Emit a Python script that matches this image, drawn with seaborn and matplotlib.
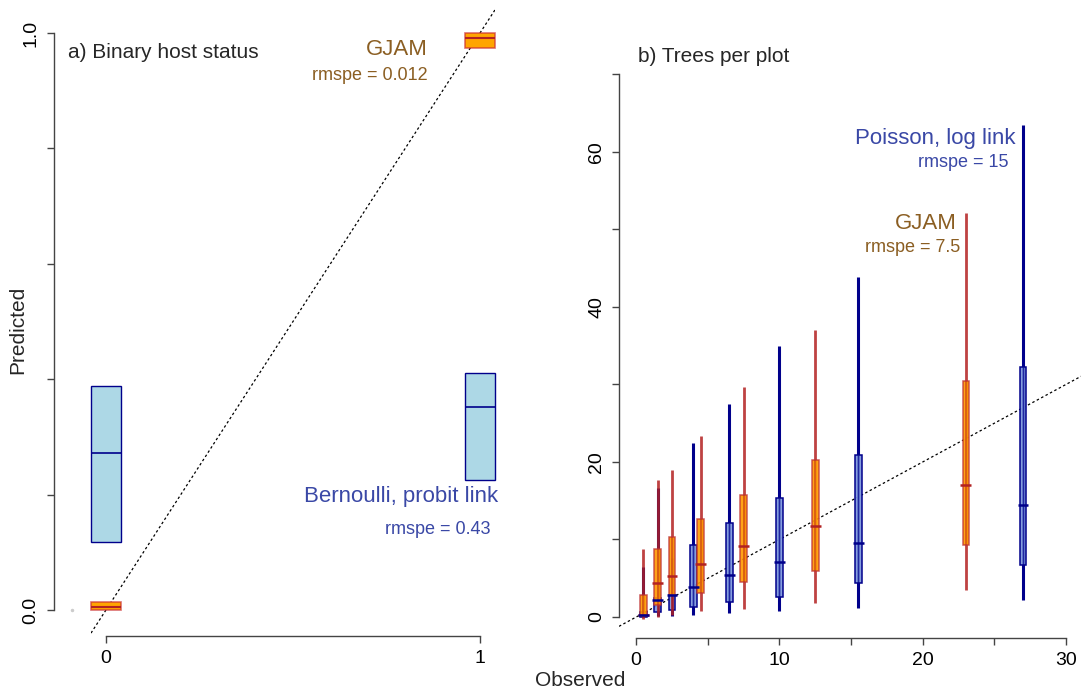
import numpy as np
import pandas as pd
import matplotlib
matplotlib.use("Agg")
import matplotlib.pyplot as plt
import seaborn as sns

# ---- panel a: binary host status ----
bin_obs = [0, 1]
bern_lo = [0.118, 0.225]
bern_med = [0.272, 0.351]
bern_hi = [0.388, 0.410]
gjam_bin_lo = [0.0, 0.974]
gjam_bin_med = [0.006, 0.991]
gjam_bin_hi = [0.014, 1.0]

# ---- panel b: trees per plot ----
pois_x = [0.5, 1.5, 2.5, 4.0, 6.5, 10.0, 15.5, 27.0]
pois_wlo = [0.0, 0.1, 0.1, 0.2, 0.5, 0.8, 1.2, 2.2]
pois_lo = [0.0, 0.6, 0.9, 1.25, 1.9, 2.6, 4.4, 6.7]
pois_med = [0.2, 2.2, 2.8, 3.9, 5.4, 7.1, 9.5, 14.5]
pois_hi = [0.6, 2.4, 2.8, 9.3, 12.1, 15.4, 20.9, 32.3]
pois_whi = [6.5, 16.7, 7.6, 22.5, 27.5, 35.0, 43.9, 63.4]

gjam_x = [0.5, 1.5, 2.5, 4.5, 7.5, 12.5, 23.0]
gjam_wlo = [-0.3, 0.0, 0.2, 0.8, 1.1, 1.8, 3.5]
gjam_lo = [0.1, 1.5, 2.9, 3.1, 4.5, 5.9, 9.3]
gjam_med = [0.25, 4.4, 5.3, 6.8, 9.2, 11.7, 17.0]
gjam_hi = [2.8, 8.8, 10.3, 12.6, 15.7, 20.2, 30.5]
gjam_whi = [8.8, 17.7, 18.9, 23.3, 29.7, 37.0, 52.1]

pois = pd.DataFrame({'x': pois_x, 'wlo': pois_wlo, 'lo': pois_lo,
                     'med': pois_med, 'hi': pois_hi, 'whi': pois_whi})
gjam = pd.DataFrame({'x': gjam_x, 'wlo': gjam_wlo, 'lo': gjam_lo,
                     'med': gjam_med, 'hi': gjam_hi, 'whi': gjam_whi})

sns.set_theme(style="ticks")
plt.rcParams['font.family'] = ['Liberation Sans', 'DejaVu Sans']
plt.rcParams['axes.linewidth'] = 1.0
plt.rcParams['axes.edgecolor'] = '#444444'
plt.rcParams['xtick.color'] = '#444444'
plt.rcParams['ytick.color'] = '#444444'
plt.rcParams['xtick.labelcolor'] = 'black'
plt.rcParams['ytick.labelcolor'] = 'black'

ORANGE = '#FFA500'
RED = '#B22222'
DBLUE = '#00008B'
TXT_BROWN = '#8B5E22'
TXT_BLUE = '#3A48A6'

fig = plt.figure(figsize=(10.81, 6.93), dpi=100)
ax1 = fig.add_axes([0.0842, 0.0823, 0.3737, 0.9076])
ax2 = fig.add_axes([0.5726, 0.0794, 0.4274, 0.8225])

# -------------------
# a) Binary host status
# -------------------
ax1.axline((0, 0), slope=1, color='black', lw=0.9, ls=(0, (2, 2)), zorder=1)
bw = 0.08
lo = np.array(bern_lo)
ax1.bar(bin_obs, np.array(bern_hi) - lo, bottom=lo, width=bw,
        color='#ADD8E6', edgecolor=DBLUE, lw=1.0, zorder=2, clip_on=False)
ax1.hlines(bern_med, np.array(bin_obs) - bw / 2, np.array(bin_obs) + bw / 2,
           color=DBLUE, lw=1.2, zorder=3, clip_on=False)
lo = np.array(gjam_bin_lo)
ax1.bar(bin_obs, np.array(gjam_bin_hi) - lo, bottom=lo, width=bw,
        color=ORANGE, edgecolor=(0.8, 0.2, 0.2, 0.7), lw=1.2, zorder=2, clip_on=False)
ax1.hlines(gjam_bin_med, np.array(bin_obs) - bw / 2, np.array(bin_obs) + bw / 2,
           color=RED, lw=1.5, zorder=3, clip_on=False)
ax1.plot([-0.09], [0.0], 'o', ms=1.5, color='#cccccc', zorder=1, clip_on=False)

sns.despine(ax=ax1)
ax1.spines['left'].set_position(('outward', 27))
ax1.spines['left'].set_bounds(0, 1)
ax1.spines['bottom'].set_bounds(0, 1)
ax1.set_xlim(-0.04, 1.04)
ax1.set_ylim(-0.045, 1.045)
ax1.set_xticks([0, 1])
ax1.set_yticks(np.arange(0, 1.01, 0.2))
ax1.set_yticklabels(['0.0', '', '', '', '', '1.0'])
ax1.tick_params(axis='both', labelsize=14, length=5, width=1.0, pad=5)
ax1.tick_params(axis='y', labelrotation=90)
for t in ax1.get_yticklabels():
    t.set_va('center')

ax1.text(-0.102, 0.967, 'a) Binary host status', fontsize=15, ha='left', va='center')
ax1.text(0.861, 0.971, 'GJAM', fontsize=16, color=TXT_BROWN, ha='right', va='center')
ax1.text(0.861, 0.926, 'rmspe = 0.012', fontsize=13, color=TXT_BROWN, ha='right', va='center')
ax1.text(1.048, 0.197, 'Bernoulli, probit link', fontsize=16, color=TXT_BLUE, ha='right', va='center')
ax1.text(1.027, 0.140, 'rmspe = 0.43', fontsize=13, color=TXT_BLUE, ha='right', va='center')

# -------------------
# b) Trees per plot
# -------------------
ax2.axline((0, 0), slope=1, color='black', lw=0.9, ls=(0, (2, 2)), zorder=1)
w = 0.45
mw = 0.75

ax2.vlines(pois['x'], pois['wlo'], pois['whi'], color=DBLUE, lw=2.2, zorder=2)
ax2.bar(pois['x'], pois['hi'] - pois['lo'], bottom=pois['lo'], width=w,
        color=(0.48, 0.58, 0.86, 0.9), edgecolor=DBLUE, lw=1.1, zorder=3)
ax2.vlines(pois['x'], pois['lo'], pois['hi'], color=(0.0, 0.0, 0.55, 0.7), lw=1.0, zorder=3.5)

ax2.vlines(gjam['x'], gjam['wlo'], gjam['whi'], color=(0.7, 0.13, 0.13, 0.85), lw=2.0, zorder=4)
ax2.bar(gjam['x'], gjam['hi'] - gjam['lo'], bottom=gjam['lo'], width=w,
        color=(1.0, 0.6, 0.0, 0.9), edgecolor=(0.75, 0.2, 0.2, 0.8), lw=1.1, zorder=5)
ax2.vlines(gjam['x'], gjam['lo'], gjam['hi'], color=(0.7, 0.13, 0.13, 0.5), lw=1.2, zorder=6)
ax2.hlines(gjam['med'], gjam['x'] - mw / 2, gjam['x'] + mw / 2, color=RED, lw=1.8, zorder=7)
ax2.hlines(pois['med'], pois['x'] - mw / 2, pois['x'] + mw / 2, color=DBLUE, lw=1.8, zorder=7)

sns.despine(ax=ax2)
ax2.spines['left'].set_bounds(0, 70)
ax2.spines['bottom'].set_bounds(0, 30)
ax2.set_xlim(-1.2, 31.04)
ax2.set_ylim(-2.7, 70.8)
ax2.set_xticks(np.arange(0, 31, 5))
ax2.set_xticklabels(['0', '', '10', '', '20', '', '30'])
ax2.set_yticks(np.arange(0, 71, 10))
ax2.set_yticklabels(['0', '', '20', '', '40', '', '60', ''])
ax2.tick_params(axis='both', labelsize=14, length=5, width=1.0, pad=5)
ax2.tick_params(axis='y', labelrotation=90)
for t in ax2.get_yticklabels():
    t.set_va('center')

ax2.text(0.14, 72.3, 'b) Trees per plot', fontsize=15, ha='left', va='center')
ax2.text(26.45, 61.7, 'Poisson, log link', fontsize=16, color=TXT_BLUE, ha='right', va='center')
ax2.text(25.96, 58.6, 'rmspe = 15', fontsize=13, color=TXT_BLUE, ha='right', va='center')
ax2.text(22.4, 50.7, 'GJAM', fontsize=16, color=TXT_BROWN, ha='right', va='center')
ax2.text(22.6, 47.7, 'rmspe = 7.5', fontsize=13, color=TXT_BROWN, ha='right', va='center')

fig.text(18 / 1081, 1 - 330 / 693, 'Predicted', fontsize=15, rotation=90, ha='center', va='center')
fig.text(580 / 1081, 1 - 680 / 693, 'Observed', fontsize=15, ha='center', va='center')

fig.savefig("out.png", dpi=100)
